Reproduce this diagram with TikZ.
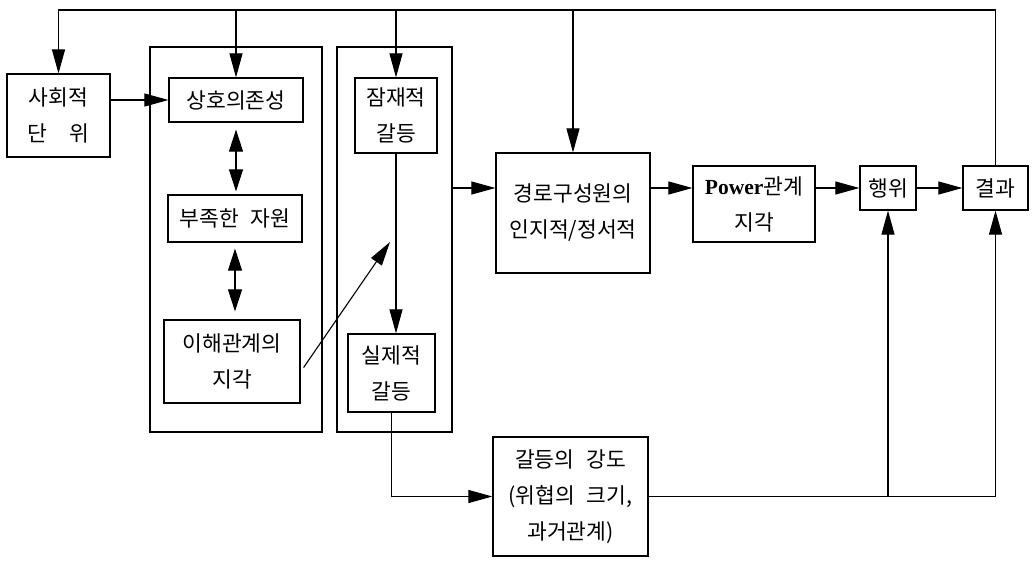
\documentclass[tikz,border=0pt]{standalone}
\usepackage{fontspec}
\newfontfamily\kr{Noto Sans CJK KR}
\newfontfamily\lat{Liberation Serif}
\usetikzlibrary{arrows.meta}
\newcommand{\ks}{\hspace{0.55em}}
\tikzset{
  box/.style={draw, line width=1.2pt, inner sep=0pt, align=center,
    font=\kr\fontsize{21.5}{36}\selectfont},
  frame/.style={draw, line width=1.2pt, inner sep=0pt},
  conn/.style={line width=1.1pt},
  arr/.style={conn, -{Triangle[length=24pt,width=13pt]}},
  darr/.style={conn, {Triangle[length=22pt,width=14pt]}-{Triangle[length=22pt,width=14pt]}},
}
\begin{document}
\begin{tikzpicture}[x=1pt,y=-1pt]
\useasboundingbox (0,0) rectangle (1035,560);
% frames
\node[frame, minimum width=172pt, minimum height=385pt] (g1) at (236,239.5) {};
\node[frame, minimum width=115pt, minimum height=385pt] (g2) at (394.5,239.5) {};
% boxes
\node[box, minimum width=103pt, minimum height=83pt] (su) at (58.5,115.5) {사회적\\단\hspace{1em}위};
\node[box, minimum width=134pt, minimum height=44pt] (hd) at (236,100) {상호의존성};
\node[box, minimum width=134pt, minimum height=47pt] (bj) at (235,218.5) {부족한\ks 자원};
\node[box, minimum width=136pt, minimum height=83pt] (ih) at (232,361.5) {이해관계의\\지각};
\node[box, minimum width=82pt, minimum height=75pt] (jj) at (396,115.5) {잠재적\\갈등};
\node[box, minimum width=87pt, minimum height=78pt] (sj) at (391.5,373) {실제적\\갈등};
\node[box, minimum width=154pt, minimum height=120pt] (gr) at (573,213) {경로구성원의\\인지적/정서적};
\node[box, minimum width=122pt, minimum height=76pt] (pw) at (754,204) {{\lat\bfseries Power}관계\\지각};
\node[box, minimum width=56pt, minimum height=44pt] (hw) at (888,188) {행위};
\node[box, minimum width=65pt, minimum height=44pt] (gg) at (995.5,188) {결과};
\node[box, minimum width=155pt, minimum height=119pt] (gd) at (570.5,496.5) {갈등의\ks 강도\\(위협의\ks 크기,\\과거관계)};
% coordinates
\coordinate (tl) at (58.5,10);
\coordinate (de) at (390,242);
% feedback loop
\draw[arr] (gg.north) |- (tl) -- (su.north);
\draw[arr] (hd.north |- tl) -- (hd.north);
\draw[arr] (jj.north |- tl) -- (jj.north);
\draw[arr] (gr.north |- tl) -- (gr.north);
% left group
\draw[arr] (su.east |- hd.west) -- (hd.west);
\draw[darr, shorten <=7pt, shorten >=3pt] (hd.south) -- (hd.south |- bj.north);
\draw[darr, shorten <=6pt, shorten >=8pt] (bj.south) -- (bj.south |- ih.north);
\draw[arr] ([xshift=3pt,yshift=-6pt]ih.east) -- (de);
\draw[arr] (jj.south) -- (jj.south |- sj.north);
% main chain
\draw[arr] (g2.east |- hw.west) -- (gr.west |- hw.west);
\draw[arr] (gr.east |- hw.west) -- (pw.west |- hw.west);
\draw[arr] (pw.east |- hw.west) -- (hw.west);
\draw[arr] (hw.east) -- (gg.west);
% bottom
\draw[arr] (sj.south) |- (gd.west);
\draw[arr] (gd.east) -| (gg.south);
\draw[arr] (hw.south |- gd.east) -- (hw.south);
\end{tikzpicture}
\end{document}
